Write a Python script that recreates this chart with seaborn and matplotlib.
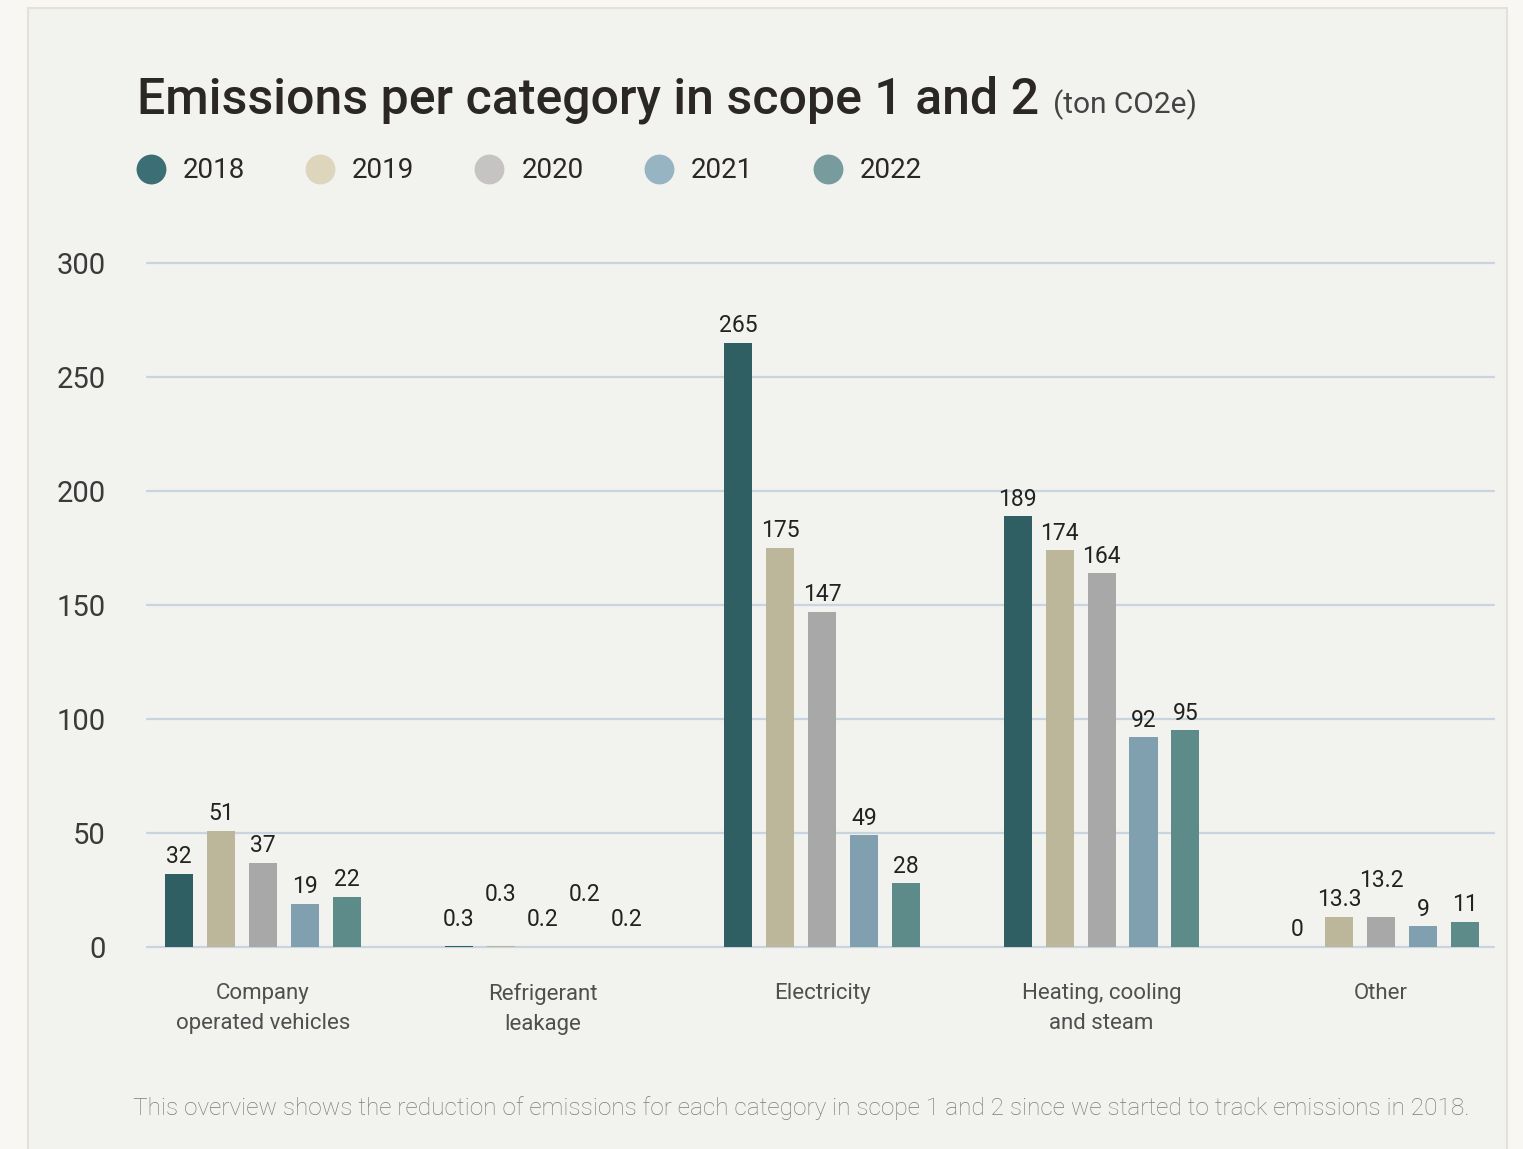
import pandas as pd
import seaborn as sns
import matplotlib.pyplot as plt
from matplotlib.lines import Line2D
from matplotlib.patches import Rectangle

categories = ["Company\noperated vehicles", "Refrigerant\nleakage", "Electricity",
              "Heating, cooling\nand steam", "Other"]
years = ["2018", "2019", "2020", "2021", "2022"]

# values per year, one entry per category
v2018 = [32, 0.3, 265, 189, 0]
v2019 = [51, 0.3, 175, 174, 13.3]
v2020 = [37, 0.2, 147, 164, 13.2]
v2021 = [19, 0.2, 49, 92, 9]
v2022 = [22, 0.2, 28, 95, 11]

label_text = {
    "2018": ["32", "0.3", "265", "189", "0"],
    "2019": ["51", "0.3", "175", "174", "13.3"],
    "2020": ["37", "0.2", "147", "164", "13.2"],
    "2021": ["19", "0.2", "49", "92", "9"],
    "2022": ["22", "0.2", "28", "95", "11"],
}

yticks = [0, 50, 100, 150, 200, 250, 300]

bar_colors = ["#2f5f62", "#bcb69b", "#a8a8a8", "#80a0b0", "#5d8b89"]
legend_colors = ["#3b6e75", "#ddd6bd", "#c6c4c2", "#97b4c2", "#789c9e"]

series = [v2018, v2019, v2020, v2021, v2022]
rows = []
for yr, vals in zip(years, series):
    for cat, v in zip(categories, vals):
        rows.append({"category": cat, "year": yr, "value": v})
df = pd.DataFrame(rows)

sns.set_style("white")
plt.rcParams['font.family'] = ['Roboto', 'DejaVu Sans']

W, H = 1523, 1149
fig = plt.figure(figsize=(W / 100, H / 100), dpi=100)
fig.patch.set_facecolor("#f8f7f4")

# card background
fig.patches.append(Rectangle((28 / W, -0.01), (1507 - 28) / W, 1 - 8 / H + 0.01,
                             transform=fig.transFigure, facecolor="#f2f2ef",
                             edgecolor="#e4e1db", linewidth=1.5, zorder=-5))

ax = fig.add_axes([147 / W, (H - 947) / H, (1494 - 147) / W, (947 - 263) / H])
ax.set_facecolor("none")

sns.barplot(data=df, x="category", y="value", hue="year", order=categories,
            hue_order=years, palette=bar_colors, saturation=1, width=0.75,
            gap=0.33, ax=ax, legend=False, zorder=3, edgecolor="none")

ax.set_xlim(-0.415, 4.404)
ax.set_ylim(0, 300)
ax.set_yticks(yticks)
ax.set_yticklabels([str(t) for t in yticks], fontsize=21, color="#3a3a3a")
ax.tick_params(axis="y", length=0, pad=30)
ax.tick_params(axis="x", length=0, pad=26)
ax.set_xticks(range(len(categories)))
ax.set_xticklabels(categories, fontsize=16, color="#4f4f4f", linespacing=1.55)
ax.set_xlabel("")
ax.set_ylabel("")
for s in ax.spines.values():
    s.set_visible(False)
ax.grid(axis="y", color="#c8d5df", linewidth=1.6, zorder=1, clip_on=False)
ax.grid(axis="x", visible=False)
for gl in ax.get_ygridlines():
    gl.set_clip_on(False)

# value labels, some staggered like the original
extra = {("2019", 1): 18, ("2021", 1): 18, ("2020", 4): 14}
for yr, cont in zip(years, ax.containers):
    texts = ax.bar_label(cont, labels=label_text[yr], padding=4, fontsize=16.5,
                         color="#222222")
    for i, t in enumerate(texts):
        off = extra.get((yr, i), 0)
        if i == 1:
            off += 7
        if off:
            t.xyann = (t.xyann[0], t.xyann[1] + off)

handles = [Line2D([0], [0], marker="o", linestyle="none", markersize=21.5,
                  markerfacecolor=c, markeredgecolor="none") for c in legend_colors]
fig.legend(handles, years, loc="center left", bbox_to_anchor=(112 / W, 1 - 171 / H),
           ncol=5, frameon=False, fontsize=20, handlelength=1.0, handletextpad=0.65,
           columnspacing=2.2, labelcolor="#2a2725")

title = fig.text(137 / W, 1 - 113 / H, "Emissions per category in scope 1 and 2",
                 fontsize=36, color="#2a2725", fontweight="medium", va="baseline")
fig.canvas.draw()
bb = title.get_window_extent()
fig.text((bb.x1 + 14) / W, 1 - 113 / H, "(ton CO2e)", fontsize=21.5, color="#444444",
         va="baseline")

fig.text(133 / W, 1 - 1108 / H,
         "This overview shows the reduction of emissions for each category in scope 1 and 2 "
         "since we started to track emissions in 2018.",
         fontsize=17.6, color="#7c7c7c", fontweight="light", va="center")

fig.savefig("out.png", dpi=100, facecolor=fig.get_facecolor())
